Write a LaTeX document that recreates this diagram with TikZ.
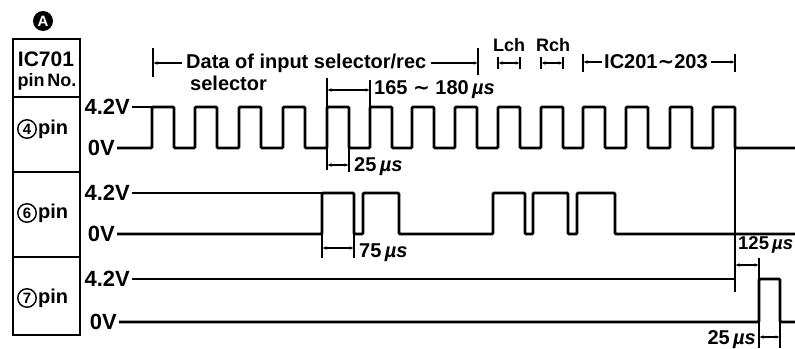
\documentclass[tikz,border=0pt]{standalone}
\usepackage{fontspec}
\setmainfont{Liberation Sans}
\newfontfamily\tildefont{DejaVu Sans}
\usetikzlibrary{arrows.meta,positioning}
\newcommand{\micros}{\,\textit{µs}}
\newcommand{\range}{{\tildefont\bfseries ∼}}
\tikzset{
  wave/.style={line width=2.8pt,rounded corners=1.2pt},
  refline/.style={line width=1.3pt},
  tickline/.style={line width=1.1pt},
  dimline/.style={line width=1.1pt,{Latex[length=4.5pt,width=3.5pt]}-{Latex[length=4.5pt,width=3.5pt]}},
  toline/.style={line width=1.1pt,-{Latex[length=4.5pt,width=3.5pt]}},
  txt/.style={inner sep=0pt,font=\fontsize{20}{20}\selectfont\bfseries},
  volt/.style={inner sep=0pt,anchor=east,font=\fontsize{22}{22}\selectfont\bfseries},
  pincirc/.style={circle,draw,line width=1.4pt,inner sep=0pt,minimum size=18.5pt,
    font=\fontsize{15}{15}\selectfont\bfseries}
}

\begin{document}
\begin{tikzpicture}[x=1pt,y=-1pt]
  \useasboundingbox (0,0) rectangle (795,348);
  \node[circle,fill=black,text=white,inner sep=0pt,minimum size=20pt,
    font=\fontsize{15}{15}\selectfont\bfseries] (tagA) at (43,21) {A};
  \draw[line width=2.4pt] (13,39) rectangle (80,335);
  \draw[line width=2pt] (13,97) -- (80,97) (13,172) -- (80,172) (13,257) -- (80,257);
  \node[txt,font=\fontsize{21}{21}\selectfont\bfseries] (ichead) at (46,59) {IC701};
  \node[txt,font=\fontsize{18}{18}\selectfont\bfseries] (pinhead) at (47,82) {pin\,No.};
  \node[pincirc] (pin4) at (27,129) {4};
  \node[txt,right=1pt of pin4] (pin4w) {pin};
  \node[pincirc] (pin6) at (27,213) {6};
  \node[txt,right=1pt of pin6] (pin6w) {pin};
  \node[pincirc] (pin7) at (27,298) {7};
  \node[txt,right=1pt of pin7] (pin7w) {pin};
  \node[volt] (v4hi) at (130,107) {4.2V};
  \node[volt] (v4lo) at (115,148) {0V};
  \node[volt] (v6hi) at (130,193) {4.2V};
  \node[volt] (v6lo) at (115,234) {0V};
  \node[volt] (v7hi) at (130,279) {4.2V};
  \node[volt] (v7lo) at (117,322) {0V};
  \draw[refline] ([xshift=2pt]v4hi.east) -- (152,107);
  \draw[wave] ([xshift=2pt]v4lo.east)
    \foreach \r in {152,195,239,283,327,370,412,455,498,541,583,626,670,713}
      { -- (\r,148) -- (\r,107) -- (\r+22,107) -- (\r+22,148) } -- (795,148);
  \draw[refline] ([xshift=2pt]v6hi.east) -- (322,193);
  \draw[wave] ([xshift=2pt]v6lo.east)
    \foreach \a/\b in {322/354,363/399,493/525,533/568,577/615}
      { -- (\a,234) -- (\a,193) -- (\b,193) -- (\b,234) } -- (795,234);
  \draw[refline] ([xshift=2pt]v7hi.east) -- (735,279);
  \draw[wave] ([xshift=2pt]v7lo.east) -- (759,322) -- (759,279) -- (780,279)
    -- (780,322) -- (795,322);
  \draw[refline] (735,148) -- (735,292);
  \node[txt,anchor=west] (data) at (186,63) {Data of input selector/rec};
  \node[txt,below right=3.3pt and 4pt of data.south west] (data2) {selector};
  \coordinate (dataL) at (153,63);
  \coordinate (dataR) at (478,63);
  \draw[tickline] (153,48) -- (153,77) (478,48) -- (478,75);
  \draw[toline] ([xshift=-4pt]data.west) -- (dataL);
  \draw[toline] ([xshift=5pt]data.east) -- (dataR);
  \draw[tickline] (327,78) -- (327,170) (370,80) -- (370,107) (349,148) -- (349,172);
  \coordinate (perL) at (327,90);
  \coordinate (perR) at (370,90);
  \draw[dimline] (perL) -- (perR);
  \node[txt,anchor=west] (period) at (374,90) {165 \range{} 180\micros};
  \coordinate (hiL) at (327,165);
  \coordinate (hiR) at (349,165);
  \draw[dimline] (hiL) -- (hiR);
  \node[txt,anchor=west] (hiwidth) at (354,167) {25\micros};
  \node[txt,font=\fontsize{18}{18}\selectfont\bfseries] (lch) at (509,45) {Lch};
  \node[txt,font=\fontsize{18}{18}\selectfont\bfseries] (rch) at (553,45) {Rch};
  \draw[tickline] (498,57) -- (498,69) (520,57) -- (520,69) (541,57) -- (541,69) (563,57) -- (563,69);
  \coordinate (lchL) at (498,63);
  \coordinate (lchR) at (520,63);
  \coordinate (rchL) at (541,63);
  \coordinate (rchR) at (563,63);
  \draw[dimline] (lchL) -- (lchR);
  \draw[dimline] (rchL) -- (rchR);
  \node[txt,anchor=west] (icrange) at (604,62) {IC201\range203};
  \coordinate (icL) at (583,62);
  \coordinate (icR) at (735,62);
  \draw[tickline] (583,54) -- (583,72) (735,54) -- (735,72);
  \draw[toline] ([xshift=-2pt]icrange.west) -- (icL);
  \draw[toline] ([xshift=3pt]icrange.east) -- (icR);
  \draw[tickline] (322,234) -- (322,258) (354,234) -- (354,258);
  \coordinate (p6L) at (322,248);
  \coordinate (p6R) at (354,248);
  \draw[dimline] (p6L) -- (p6R);
  \node[txt,anchor=west] (p6width) at (359,253) {75\micros};
  \draw[tickline] (759,258) -- (759,279);
  \coordinate (delL) at (735,265);
  \coordinate (delR) at (759,265);
  \draw[dimline] (delL) -- (delR);
  \node[txt,anchor=west,font=\fontsize{18.5}{18.5}\selectfont\bfseries] (delay) at (738,245) {125\micros};
  \draw[tickline] (759,322) -- (759,348) (780,322) -- (780,348);
  \coordinate (p7L) at (759,337);
  \coordinate (p7R) at (780,337);
  \draw[dimline] (p7L) -- (p7R);
  \node[txt,anchor=east] (p7width) at (756,340) {25\micros};
\end{tikzpicture}
\end{document}
